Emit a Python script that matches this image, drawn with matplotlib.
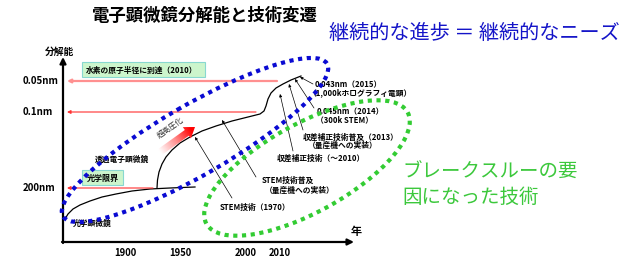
import numpy as np
import matplotlib
matplotlib.use("Agg")
import matplotlib.pyplot as plt
from matplotlib.patches import Ellipse, Rectangle, FancyArrow
from matplotlib.colors import LinearSegmentedColormap

plt.rcParams['font.family'] = ['Noto Sans CJK JP', 'DejaVu Sans']

# --- data (schematic, in picture units) ---
year_labels = ['1900', '1950', '2000', '2010']
year_pos = [125, 180, 246, 280]

res_labels = ['0.05nm', '0.1nm', '200nm']
res_pos = [81, 112, 188]
limit_arrow_start = [277, 256, 153]

# optical microscope curve
optical_x = [65, 68, 73, 80, 90, 102, 116, 132, 150, 170, 195]
optical_y = [219, 214, 209, 205, 201, 197, 194, 191, 189, 188, 187]

# transmission electron microscope curve
tem_x = [157, 157.5, 159, 162, 166, 172, 180, 190, 202, 216, 232, 248, 260, 264,
         266, 268, 271, 276, 283, 291, 301]
tem_y = [188, 180, 172, 164, 157, 150, 143, 137, 131, 126, 121, 117, 114, 111,
         106, 99, 93, 88, 84, 80, 76]

# milestone arrows: (tail, head)
milestone_tail = [(232, 198), (256, 177), (293, 151), (303, 130), (314, 108), (313, 84)]
milestone_head = [(195, 137), (222, 120), (280, 94), (289, 84), (295, 79), (300, 77)]

fig = plt.figure(figsize=(6.44, 2.62), dpi=100)
ax = fig.add_axes([0, 0, 1, 1])
ax.set_xlim(0, 644)
ax.set_ylim(262, 0)
ax.axis('off')

# title / side texts
ax.text(205, 16, '電子顕微鏡分解能と技術変遷', fontsize=12.5, fontweight='bold',
        ha='center', va='center')
ax.text(474, 33, '継続的な進歩 ＝ 継続的なニーズ', fontsize=14.5, color='#1414c8',
        ha='center', va='center')
ax.text(402, 185, 'ブレークスルーの要\n因になった技術', fontsize=14, color='#3cc83c',
        ha='left', va='center', linespacing=1.25)

# axes arrows
ax.annotate('', xy=(63, 57), xytext=(63, 243),
            arrowprops=dict(arrowstyle='-|>', lw=1.6, color='k', mutation_scale=9,
                            shrinkA=0, shrinkB=0))
ax.annotate('', xy=(354, 242), xytext=(62, 242),
            arrowprops=dict(arrowstyle='-|>', lw=1.6, color='k', mutation_scale=9,
                            shrinkA=0, shrinkB=0))
ax.text(60, 52, '分解能', fontsize=7, fontweight='bold', ha='center', va='center')
ax.text(356, 232, '年', fontsize=8, fontweight='bold', ha='center', va='center')

for lab, x in zip(year_labels, year_pos):
    ax.text(x, 253, lab, fontsize=6.8, fontweight='bold', ha='center', va='center')

for i, (lab, y) in enumerate(zip(res_labels, res_pos)):
    ax.text(23, y, lab, fontsize=7, fontweight='bold', ha='left', va='center')
    col = '#ff9090' if i == 0 else '#ff3030'
    lw = 1.6 if i == 0 else 0.8
    ax.annotate('', xy=(67, y), xytext=(limit_arrow_start[i], y),
                arrowprops=dict(arrowstyle='-|>', lw=lw, color=col, mutation_scale=5,
                                shrinkA=0, shrinkB=0))

# boxes
ax.add_patch(Rectangle((82, 62), 123, 15, facecolor='#ccf5cc', edgecolor='#88d8d0', lw=0.8))
ax.text(86, 70, '水素の原子半径に到達（2010）', fontsize=5.6, fontweight='bold',
        ha='left', va='center')
ax.add_patch(Rectangle((82, 170), 41, 15, facecolor='#ccf5cc', edgecolor='#88d8d0', lw=0.8))
ax.text(102.5, 178, '光学限界', fontsize=5.8, fontweight='bold', ha='center', va='center')

# curves
ax.plot(optical_x, optical_y, color='k', lw=0.9, solid_joinstyle='round')
ax.plot(tem_x, tem_y, color='k', lw=0.9, solid_joinstyle='round')

for t, h in zip(milestone_tail, milestone_head):
    ax.annotate('', xy=h, xytext=t,
                arrowprops=dict(arrowstyle='-|>', lw=0.5, color='k', mutation_scale=4,
                                shrinkA=0, shrinkB=0))

# gradient arrow (超高圧化)
arr = FancyArrow(160, 152, 35, -25, width=7, head_width=14, head_length=10,
                 length_includes_head=True, fc='none', ec='none')
ax.add_patch(arr)
gx, gy = np.meshgrid(np.linspace(150, 205, 80), np.linspace(115, 165, 80))
tt = ((gx - 160) * 35 + (gy - 152) * (-25)) / (35 ** 2 + 25 ** 2)
cmap = LinearSegmentedColormap.from_list('redgrad', ['#ffffff', '#ff9090', '#ff0000'])
im = ax.imshow(tt, extent=(150, 205, 165, 115), cmap=cmap, vmin=0, vmax=0.9,
               aspect='auto', zorder=2)
im.set_clip_path(arr)
ax.set_xlim(0, 644)
ax.set_ylim(262, 0)
ax.text(170, 128, '超高圧化', fontsize=5.5, rotation=35, color='#333333',
        ha='center', va='center')

# labels
small = dict(fontsize=5.6, fontweight='bold', ha='left', va='center')
ax.text(95, 159, '透過電子顕微鏡', **small)
ax.text(73, 223, '光学顕微鏡', **small)
ax.text(220, 207, 'STEM技術（1970）', **small)
ax.text(262, 180, 'STEM技術普及', **small)
ax.text(265, 190, '（量産機への実装）', **small)
ax.text(277, 158, '収差補正技術（～2010）', **small)
ax.text(303, 137, '収差補正技術普及（2013）', **small)
ax.text(308, 145, '（量産機への実装）', **small)
ax.text(317, 112, '0.045nm（2014）', **small)
ax.text(316, 120, '（300k STEM）', **small)
ax.text(315, 85, '0.043nm（2015）', **small)
ax.text(309, 93, '（1,000kホログラフィ電顕）', **small)

# dotted ellipses
ax.add_patch(Ellipse((195, 140), 305, 70, angle=-30, fill=False, edgecolor='#0a0ad2',
                     lw=3, linestyle=(0, (1, 1.1)), zorder=5))
ax.add_patch(Ellipse((307, 168), 230, 88, angle=-29, fill=False, edgecolor='#33cc33',
                     lw=3, linestyle=(0, (1, 1.1)), zorder=5))

fig.savefig('out.png', dpi=100)
